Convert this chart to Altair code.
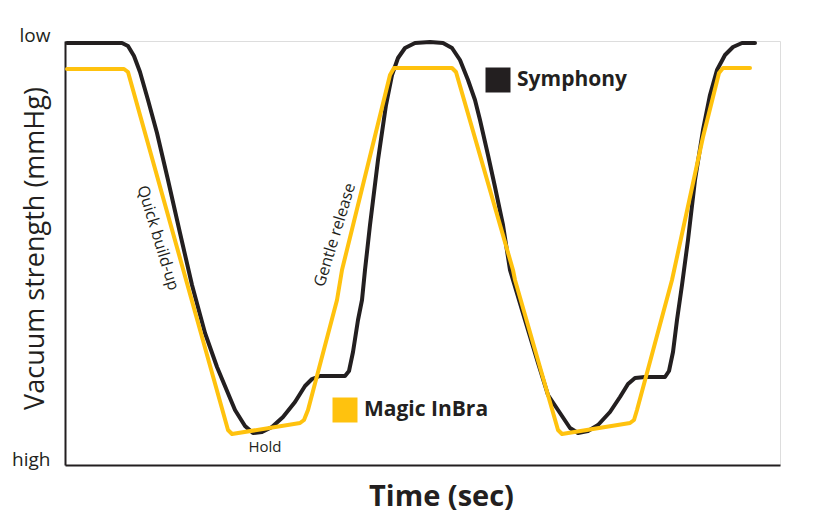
import altair as alt
import pandas as pd

FONT = "Open Sans"
BLACK = "#231f20"
YELLOW = "#ffc20e"

# Symphony curve (time units, vacuum units; 0 = high vacuum)
sym_t = [2, 57, 63, 69, 75, 83, 92, 103, 115, 127, 140, 152, 170, 180, 188, 197, 207, 218, 230, 240,
         247, 255, 280, 284, 288, 293, 297, 300, 305, 313, 321, 327, 333, 340, 350, 365, 378, 387, 395,
         403, 410, 415, 423, 430, 438, 445, 448, 460, 473, 483, 495, 505, 513, 523, 533, 545, 555, 563,
         570, 580, 600, 604, 608, 612, 617, 623, 630, 638, 645, 652, 660, 668, 677, 690]
sym_v = [422, 422, 419, 409, 393, 365, 332, 285, 232, 180, 132, 98, 55, 39, 32, 33, 38, 48, 63, 79,
         86, 89, 89, 94, 113, 145, 165, 195, 240, 305, 360, 390, 407, 417, 422, 423, 422, 417, 405,
         385, 365, 345, 310, 278, 240, 195, 185, 145, 102, 70, 52, 37, 32, 34, 40, 53, 68, 81,
         87, 88, 88, 94, 113, 145, 180, 225, 285, 335, 370, 395, 410, 418, 422, 422]

# Magic InBra curve
mag_t = [2, 59, 63, 163, 167, 235, 239, 243, 272, 277, 325, 329, 387, 391, 448, 450, 493, 497,
         565, 569, 572, 607, 638, 654, 658, 685]
mag_v = [396, 396, 393, 35, 31, 42, 45, 55, 165, 195, 390, 397, 397, 393, 195, 185, 35, 31,
         42, 45, 55, 185, 328, 392, 397, 397]

series_names = ["Symphony", "Magic InBra"]
series_colors = [BLACK, YELLOW]

rows = []
for i, (t, v) in enumerate(zip(sym_t, sym_v)):
    rows.append({"series": "Symphony", "order": i, "t": t, "v": v})
for i, (t, v) in enumerate(zip(mag_t, mag_v)):
    rows.append({"series": "Magic InBra", "order": i, "t": t, "v": v})
df = pd.DataFrame(rows)

xs = alt.Scale(domain=[0, 715], nice=False, zero=False)
ys = alt.Scale(domain=[0, 424], nice=False, zero=False)

lines = alt.Chart(df).mark_line(strokeWidth=4, strokeCap="round", strokeJoin="round").encode(
    x=alt.X("t:Q", scale=xs,
            axis=alt.Axis(title="Time (sec)", labels=False, ticks=False, grid=False,
                          domainColor=BLACK, domainWidth=2,
                          titleFont=FONT, titleFontSize=29, titleFontWeight="bold",
                          titleColor=BLACK, titleX=376, titleY=31,
                          titleBaseline="middle", titleAlign="center")),
    y=alt.Y("v:Q", scale=ys,
            axis=alt.Axis(title="Vacuum strength (mmHg)", values=[0, 424],
                          labelExpr="datum.value > 200 ? 'low' : 'high'",
                          ticks=False, grid=False, domainColor=BLACK, domainWidth=2,
                          labelFont=FONT, labelFontSize=19, labelColor=BLACK,
                          labelBaseline="alphabetic", labelAlign="right", labelPadding=15,
                          labelFlush=False,
                          titleFont=FONT, titleFontSize=27, titleFontWeight="normal",
                          titleColor=BLACK, titleAngle=270, titleX=-30, titleY=207,
                          titleBaseline="middle", titleAlign="center")),
    color=alt.Color("series:N", scale=alt.Scale(domain=series_names, range=series_colors), legend=None),
    order="order:Q",
    detail="series:N",
)

# annotations
ann_text = ["Quick build-up", "Gentle release", "Hold"]
ann_t = [93, 270, 200]
ann_v = [227, 230, 18]
ann_angle = [73, 287, 0]
ann_df = pd.DataFrame({"text": ann_text, "t": ann_t, "v": ann_v, "angle": ann_angle,
                       "size": [16, 16, 15]})
ann = alt.Chart(ann_df).mark_text(font=FONT, color=BLACK, align="center", baseline="middle").encode(
    x=alt.X("t:Q", scale=xs), y=alt.Y("v:Q", scale=ys),
    text="text:N", angle=alt.Angle("angle:Q", scale=None), size=alt.Size("size:Q", scale=None),
)

# legend markers
leg_name = ["Symphony", "Magic InBra"]
leg_t = [433, 280]
leg_v = [385, 55]
leg_df = pd.DataFrame({"series": leg_name, "t": leg_t, "v": leg_v})
sq = alt.Chart(leg_df).mark_point(shape="square", filled=True, size=625, opacity=1).encode(
    x=alt.X("t:Q", scale=xs), y=alt.Y("v:Q", scale=ys),
    color=alt.Color("series:N", scale=alt.Scale(domain=series_names, range=series_colors), legend=None),
)
lbl = alt.Chart(leg_df).mark_text(font=FONT, fontSize=21, fontWeight="bold", color=BLACK,
                                  align="left", baseline="middle", dx=19).encode(
    x=alt.X("t:Q", scale=xs), y=alt.Y("v:Q", scale=ys), text="series:N",
)

chart = alt.layer(lines, ann, sq, lbl).properties(
    width=715, height=424,
    autosize=alt.AutoSizeParams(type="none"),
    padding={"left": 57, "top": 33, "right": 20, "bottom": 60},
).configure_view(stroke=None).configure(background="white")

chart.save("out.html", embed_options={"renderer": "svg", "actions": False})
